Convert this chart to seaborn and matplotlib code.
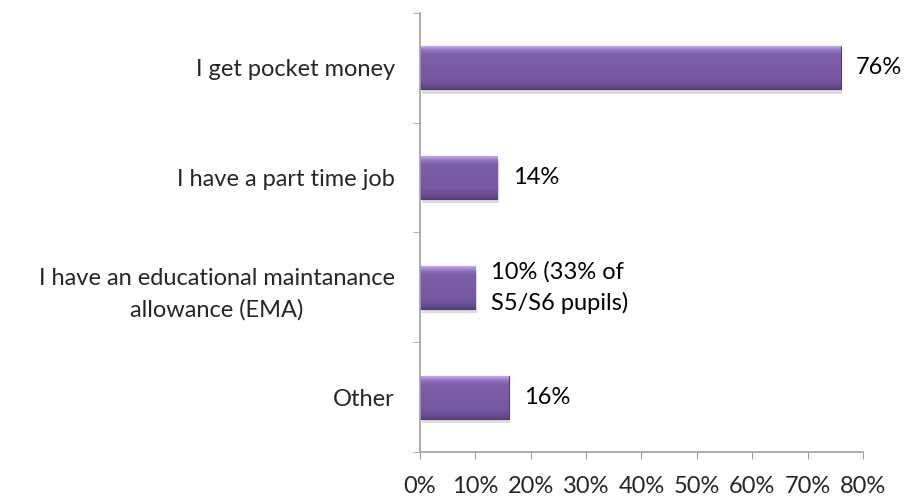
import numpy as np
import pandas as pd
import matplotlib
matplotlib.use("Agg")
import matplotlib.pyplot as plt
from matplotlib.ticker import FixedLocator, PercentFormatter
import seaborn as sns

categories = ["I get pocket money", "I have a part time job",
              "I have an educational maintanance\nallowance (EMA)", "Other"]
values = [76, 14, 10, 16]
bar_labels = ["76%", "14%", "10% (33% of\nS5/S6 pupils)", "16%"]
x_ticks = [0, 10, 20, 30, 40, 50, 60, 70, 80]

sns.set_style("white")
plt.rcParams["font.family"] = ["Lato", "DejaVu Sans"]
FS = 17

df = pd.DataFrame({"source": categories, "pct": values})

fig = plt.figure(figsize=(9.05, 4.98), dpi=100)
ax = fig.add_axes([0.464, 0.0924, 0.4895, 0.8815])

sns.barplot(data=df, y="source", x="pct", orient="h", color="#7B5CA7",
            width=0.39, edgecolor="#4F3A6E", linewidth=0.8, ax=ax, saturation=1)

# fake the bevel look with a vertical gradient clipped to each bar
grad = np.linspace(0, 1, 128).reshape(-1, 1)
cmap = matplotlib.colors.LinearSegmentedColormap.from_list(
    "bev", [(0.0, "#C4AAE8"), (0.1, "#9175BE"), (0.2, "#7D5EA9"),
            (0.75, "#7758A3"), (0.9, "#6A4E95"), (1.0, "#5A4180")])
for p in ax.patches:
    x0, y0 = p.get_x(), p.get_y()
    w, h = p.get_width(), p.get_height()
    # soft shadow
    ax.add_patch(plt.Rectangle((x0 + 0.3, y0 + 0.04), w, h, color="#BBBBBB",
                               alpha=0.5, zorder=p.get_zorder() - 1, lw=0))
    im = ax.imshow(grad, extent=(x0, x0 + w, y0 + h, y0), aspect="auto",
                   cmap=cmap, zorder=p.get_zorder() + 0.1)
    im.set_clip_path(p)

for i, (v, lab) in enumerate(zip(values, bar_labels)):
    ax.annotate(lab, xy=(v, i), xytext=(11, 0), textcoords="offset points",
                ha="left", va="center", fontsize=FS, color="black",
                linespacing=1.55)

ax.set_xlim(0, 80)
ax.set_ylim(3.5, -0.5)
ax.xaxis.set_major_locator(FixedLocator(x_ticks))
ax.xaxis.set_major_formatter(PercentFormatter(decimals=0))
ax.set_xlabel("")
ax.set_ylabel("")

ax.yaxis.set_minor_locator(FixedLocator([-0.5, 0.5, 1.5, 2.5, 3.5]))
ax.tick_params(axis="y", which="major", length=0, pad=18, labelsize=FS)
ax.tick_params(axis="y", which="minor", length=5, color="#A0A0A0", left=True)
ax.tick_params(axis="x", length=5, color="#A0A0A0", bottom=True, labelsize=FS, pad=12)
for t in ax.get_yticklabels():
    t.set_multialignment("center")
    t.set_linespacing(1.55)

for s in ["top", "right"]:
    ax.spines[s].set_visible(False)
for s in ["left", "bottom"]:
    ax.spines[s].set_color("#A0A0A0")
    ax.spines[s].set_linewidth(1.2)

fig.savefig("out.png", dpi=100)
